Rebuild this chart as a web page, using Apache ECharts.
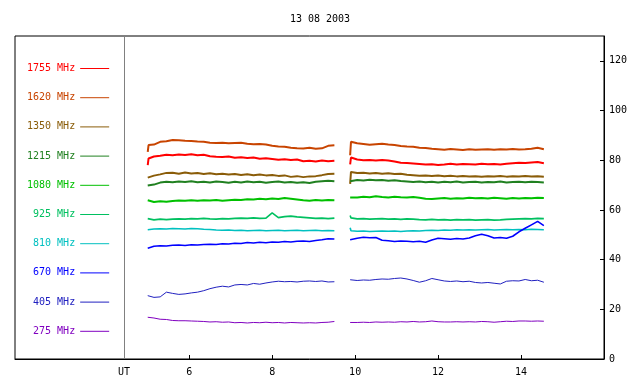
<!DOCTYPE html>
<html>
<head>
<meta charset="utf-8">
<script src="https://cdn.jsdelivr.net/npm/echarts@6/dist/echarts.min.js"></script>
<style>html,body{margin:0;padding:0;background:#fff}#c{width:640px;height:384px}</style>
</head>
<body>
<div id="c"></div>
<script>
const title = "13 08 2003";
const xTickValues = [6, 8, 10, 12, 14];
const yTickValues = [0, 20, 40, 60, 80, 100, 120];
const utLine = 4.43;
const utLabel = "UT";

const names = ["1755 MHz","1620 MHz","1350 MHz","1215 MHz","1080 MHz","925 MHz","810 MHz","670 MHz","405 MHz","275 MHz"];
const colors = ["#ff0000","#c84400","#8a5c08","#208020","#00c000","#00c060","#00c0c0","#0000ff","#2020c0","#8000c0"];
const widths = [2, 2, 2, 2, 2, 1.6, 1.6, 1.6, 1, 1];

const t1 = [5.00,5.02,5.15,5.30,5.45,5.60,5.75,5.90,6.05,6.20,6.35,6.50,6.65,6.80,6.95,7.10,7.25,7.40,7.55,7.70,7.85,8.00,8.15,8.30,8.45,8.60,8.75,8.90,9.05,9.20,9.35,9.50];
const t2 = [9.88,9.90,10.05,10.20,10.35,10.50,10.65,10.80,10.95,11.10,11.25,11.40,11.55,11.70,11.85,12.00,12.15,12.30,12.45,12.60,12.75,12.90,13.05,13.20,13.35,13.50,13.65,13.80,13.95,14.10,14.25,14.40,14.55];

const f1755a = [78.0,80.7,81.5,81.8,82.2,82.0,82.3,82.1,82.4,82.0,82.2,81.6,81.4,81.3,81.5,81.0,81.2,80.9,81.1,80.6,80.8,80.5,80.2,80.4,80.1,80.3,79.6,79.8,79.5,79.9,79.6,79.8];
const f1755b = [78.3,81.1,80.3,80.0,80.1,79.9,80.1,79.9,79.5,79.0,78.9,78.7,78.5,78.3,78.4,78.1,78.3,78.6,78.3,78.5,78.4,78.3,78.6,78.4,78.5,78.3,78.6,78.8,79.0,78.9,79.1,79.3,78.8];
const f1620a = [83.4,86.1,86.3,87.4,87.6,88.1,88.0,87.8,87.7,87.5,87.4,87.0,86.9,87.0,86.8,86.9,87.0,86.6,86.4,86.5,86.3,85.8,85.5,85.4,85.0,84.8,84.7,85.0,84.6,84.8,85.8,86.0];
const f1620b = [82.0,87.4,86.8,86.5,86.2,86.4,86.6,86.3,86.1,85.7,85.5,85.4,85.0,84.9,84.6,84.4,84.2,84.5,84.3,84.1,84.4,84.2,84.3,84.4,84.2,84.4,84.3,84.5,84.3,84.4,84.6,85.0,84.4];
const f1350a = [73.0,73.5,73.8,74.3,74.9,75.0,74.6,75.1,74.7,74.9,74.5,74.8,74.4,74.6,74.3,74.5,74.1,74.4,74.0,74.3,73.9,74.1,73.7,73.9,73.3,73.6,73.2,73.5,73.6,74.0,74.5,74.6];
const f1350b = [70.5,75.3,74.9,75.0,74.7,74.9,74.6,74.8,74.5,74.6,74.2,74.0,73.8,73.9,73.7,73.9,73.6,73.8,73.5,73.7,73.5,73.6,73.4,73.6,73.5,73.7,73.4,73.6,73.5,73.7,73.5,73.6,73.4];
const f1215a = [69.8,70.4,70.2,71.0,71.3,71.1,71.4,71.2,71.5,71.1,71.3,71.0,71.4,71.2,70.9,71.3,71.0,71.4,71.1,71.3,70.9,71.2,71.4,71.0,71.2,70.9,71.1,70.8,71.3,71.5,71.7,71.5];
const f1215b = [71.5,71.9,72.0,71.8,72.1,71.9,72.0,71.7,71.9,71.6,71.4,71.2,71.4,71.1,71.3,71.0,71.3,71.1,71.4,71.0,71.2,71.3,71.0,71.2,71.1,71.4,71.0,71.2,71.3,71.1,71.3,71.2,71.0];
const f1080a = [63.9,63.4,63.2,63.5,63.3,63.6,63.8,63.7,63.9,63.7,63.9,63.8,64.0,63.7,63.9,64.1,64.0,64.3,64.2,64.5,64.3,64.6,64.4,64.8,64.5,64.2,63.9,63.7,64.0,63.8,64.0,63.9];
const f1080b = [65.0,65.2,65.0,65.3,65.1,65.5,65.2,65.0,65.3,65.1,65.0,65.2,64.9,64.5,64.4,64.6,64.8,64.5,64.7,64.6,64.9,64.7,64.8,64.6,64.9,64.7,64.5,64.8,64.6,64.8,64.7,64.9,64.8];
const f925a = [56.5,56.2,56.0,56.3,56.1,56.3,56.4,56.3,56.5,56.4,56.6,56.4,56.3,56.5,56.4,56.6,56.7,56.6,56.8,56.6,56.7,58.8,56.9,57.3,57.5,57.2,57.0,56.8,56.6,56.7,56.5,56.7];
const f925b = [57.8,56.8,56.4,56.5,56.3,56.4,56.5,56.3,56.4,56.2,56.4,56.3,56.1,56.0,56.2,56.0,56.1,55.9,56.1,56.0,56.1,55.9,56.0,56.1,55.9,56.0,56.2,56.3,56.4,56.5,56.4,56.6,56.5];
const f810a = [52.0,51.9,52.3,52.4,52.3,52.5,52.4,52.3,52.5,52.4,52.2,52.1,51.9,51.8,51.9,51.7,51.8,51.6,51.7,51.8,51.6,51.7,51.8,51.6,51.7,51.8,51.6,51.7,51.8,51.6,51.7,51.6];
const f810b = [52.8,51.6,51.4,51.5,51.3,51.4,51.5,51.4,51.5,51.3,51.5,51.6,51.5,51.7,51.8,51.7,51.9,51.8,52.0,51.9,52.0,51.9,52.0,52.1,51.9,52.0,52.1,52.0,52.1,52.0,52.2,52.1,52.0];
const f670a = [44.6,45.0,45.4,45.6,45.5,45.8,45.9,45.7,46.0,45.9,46.1,46.2,46.1,46.4,46.3,46.6,46.5,46.9,46.7,47.0,46.8,47.1,47.0,47.3,47.1,47.4,47.5,47.3,47.7,48.0,48.4,48.3];
const f670b = [48.0,48.4,48.6,49.0,48.8,48.9,47.8,47.6,47.3,47.5,47.4,47.2,47.4,47.0,47.9,48.6,48.4,48.2,48.5,48.3,48.7,49.6,50.2,49.6,48.7,48.9,48.6,49.4,51.2,52.6,54.0,55.4,53.7];
const f405a = [25.5,25.3,24.8,25.0,26.9,26.4,26.0,26.2,26.6,26.9,27.5,28.3,28.9,29.3,29.0,29.8,30.0,29.8,30.4,30.1,30.6,31.0,31.3,31.1,31.2,31.0,31.3,31.4,31.2,31.4,31.0,31.1];
const f405b = [31.9,31.9,31.6,31.8,31.7,32.0,32.2,32.1,32.4,32.6,32.2,31.6,30.9,31.5,32.4,31.9,31.4,31.2,31.4,31.1,31.3,30.8,30.6,30.8,30.5,30.2,31.3,31.5,31.4,32.0,31.5,31.7,30.9];
const f275a = [16.8,16.7,16.5,16.0,15.9,15.5,15.4,15.4,15.3,15.2,15.1,14.9,15.0,14.8,14.9,14.6,14.7,14.5,14.7,14.6,14.8,14.6,14.7,14.5,14.7,14.6,14.5,14.6,14.5,14.7,14.8,15.1];
const f275b = [14.7,14.7,14.7,14.8,14.7,14.9,14.8,14.9,14.8,15.0,14.9,15.1,14.9,15.0,15.3,15.0,14.9,14.9,15.0,14.9,15.0,14.9,15.1,15.0,14.8,15.0,15.2,15.1,15.3,15.3,15.2,15.3,15.2];

const segA = [f1755a,f1620a,f1350a,f1215a,f1080a,f925a,f810a,f670a,f405a,f275a];
const segB = [f1755b,f1620b,f1350b,f1215b,f1080b,f925b,f810b,f670b,f405b,f275b];

const FONT = "DejaVu Sans Mono";

function build(a, b) {
  const d = [];
  a.forEach((v, i) => d.push([t1[i], v]));
  d.push([t1[t1.length - 1], null]);
  b.forEach((v, i) => d.push([t2[i], v]));
  return d;
}

const series = names.map((n, k) => {
  const s = {
    name: n, type: 'line', symbol: 'none', showSymbol: false,
    connectNulls: false, animation: false,
    lineStyle: { color: colors[k], width: widths[k] },
    itemStyle: { color: colors[k] },
    data: build(segA[k], segB[k])
  };
  if (k === 0) {
    s.markLine = {
      silent: true, symbol: 'none', animation: false,
      label: { show: false },
      lineStyle: { color: '#808080', type: 'solid', width: 1 },
      data: [{ xAxis: utLine }]
    };
  }
  return s;
});

const chart = echarts.init(document.getElementById('c'), null, { renderer: 'canvas' });
chart.setOption({
  animation: false,
  backgroundColor: '#fff',
  title: {
    text: title, left: 'center', top: 9,
    textStyle: { fontFamily: FONT, fontSize: 10, fontWeight: 'normal', color: '#000' }
  },
  legend: {
    orient: 'vertical', left: 27, top: 63.5, align: 'right', padding: 0,
    itemWidth: 29, itemHeight: 14, itemGap: 19.2,
    icon: 'path://M0,0L29,0L29,1L0,1Z',
    formatter: n => n.padStart(8, ' '),
    selectedMode: false,
    data: names.map((n, k) => ({ name: n, textStyle: { color: colors[k], fontFamily: FONT, fontSize: 10 } })),
    textStyle: { fontFamily: FONT, fontSize: 10 }
  },
  grid: { left: 15, right: 36, top: 36, bottom: 25, show: true, borderColor: '#000', borderWidth: 1, backgroundColor: 'transparent' },
  xAxis: {
    type: 'value', min: 1.8, max: 16,
    splitLine: { show: false },
    axisLine: { show: true, lineStyle: { color: '#000', width: 1 } },
    axisTick: { show: true, inside: true, length: 4, customValues: xTickValues, lineStyle: { color: '#000' } },
    axisLabel: {
      customValues: [utLine].concat(xTickValues), margin: 8,
      formatter: v => (Math.abs(v - utLine) < 1e-6 ? utLabel : String(v)),
      fontFamily: FONT, fontSize: 10, color: '#000'
    }
  },
  yAxis: {
    type: 'value', position: 'right', min: 0, max: 130,
    splitLine: { show: false },
    axisLine: { show: true, lineStyle: { color: '#000', width: 1 } },
    axisTick: { show: true, inside: true, length: 4, customValues: yTickValues, lineStyle: { color: '#000' } },
    axisLabel: { customValues: yTickValues, margin: 5, fontFamily: FONT, fontSize: 10, color: '#000' }
  },
  series: series
});
</script>
</body>
</html>
